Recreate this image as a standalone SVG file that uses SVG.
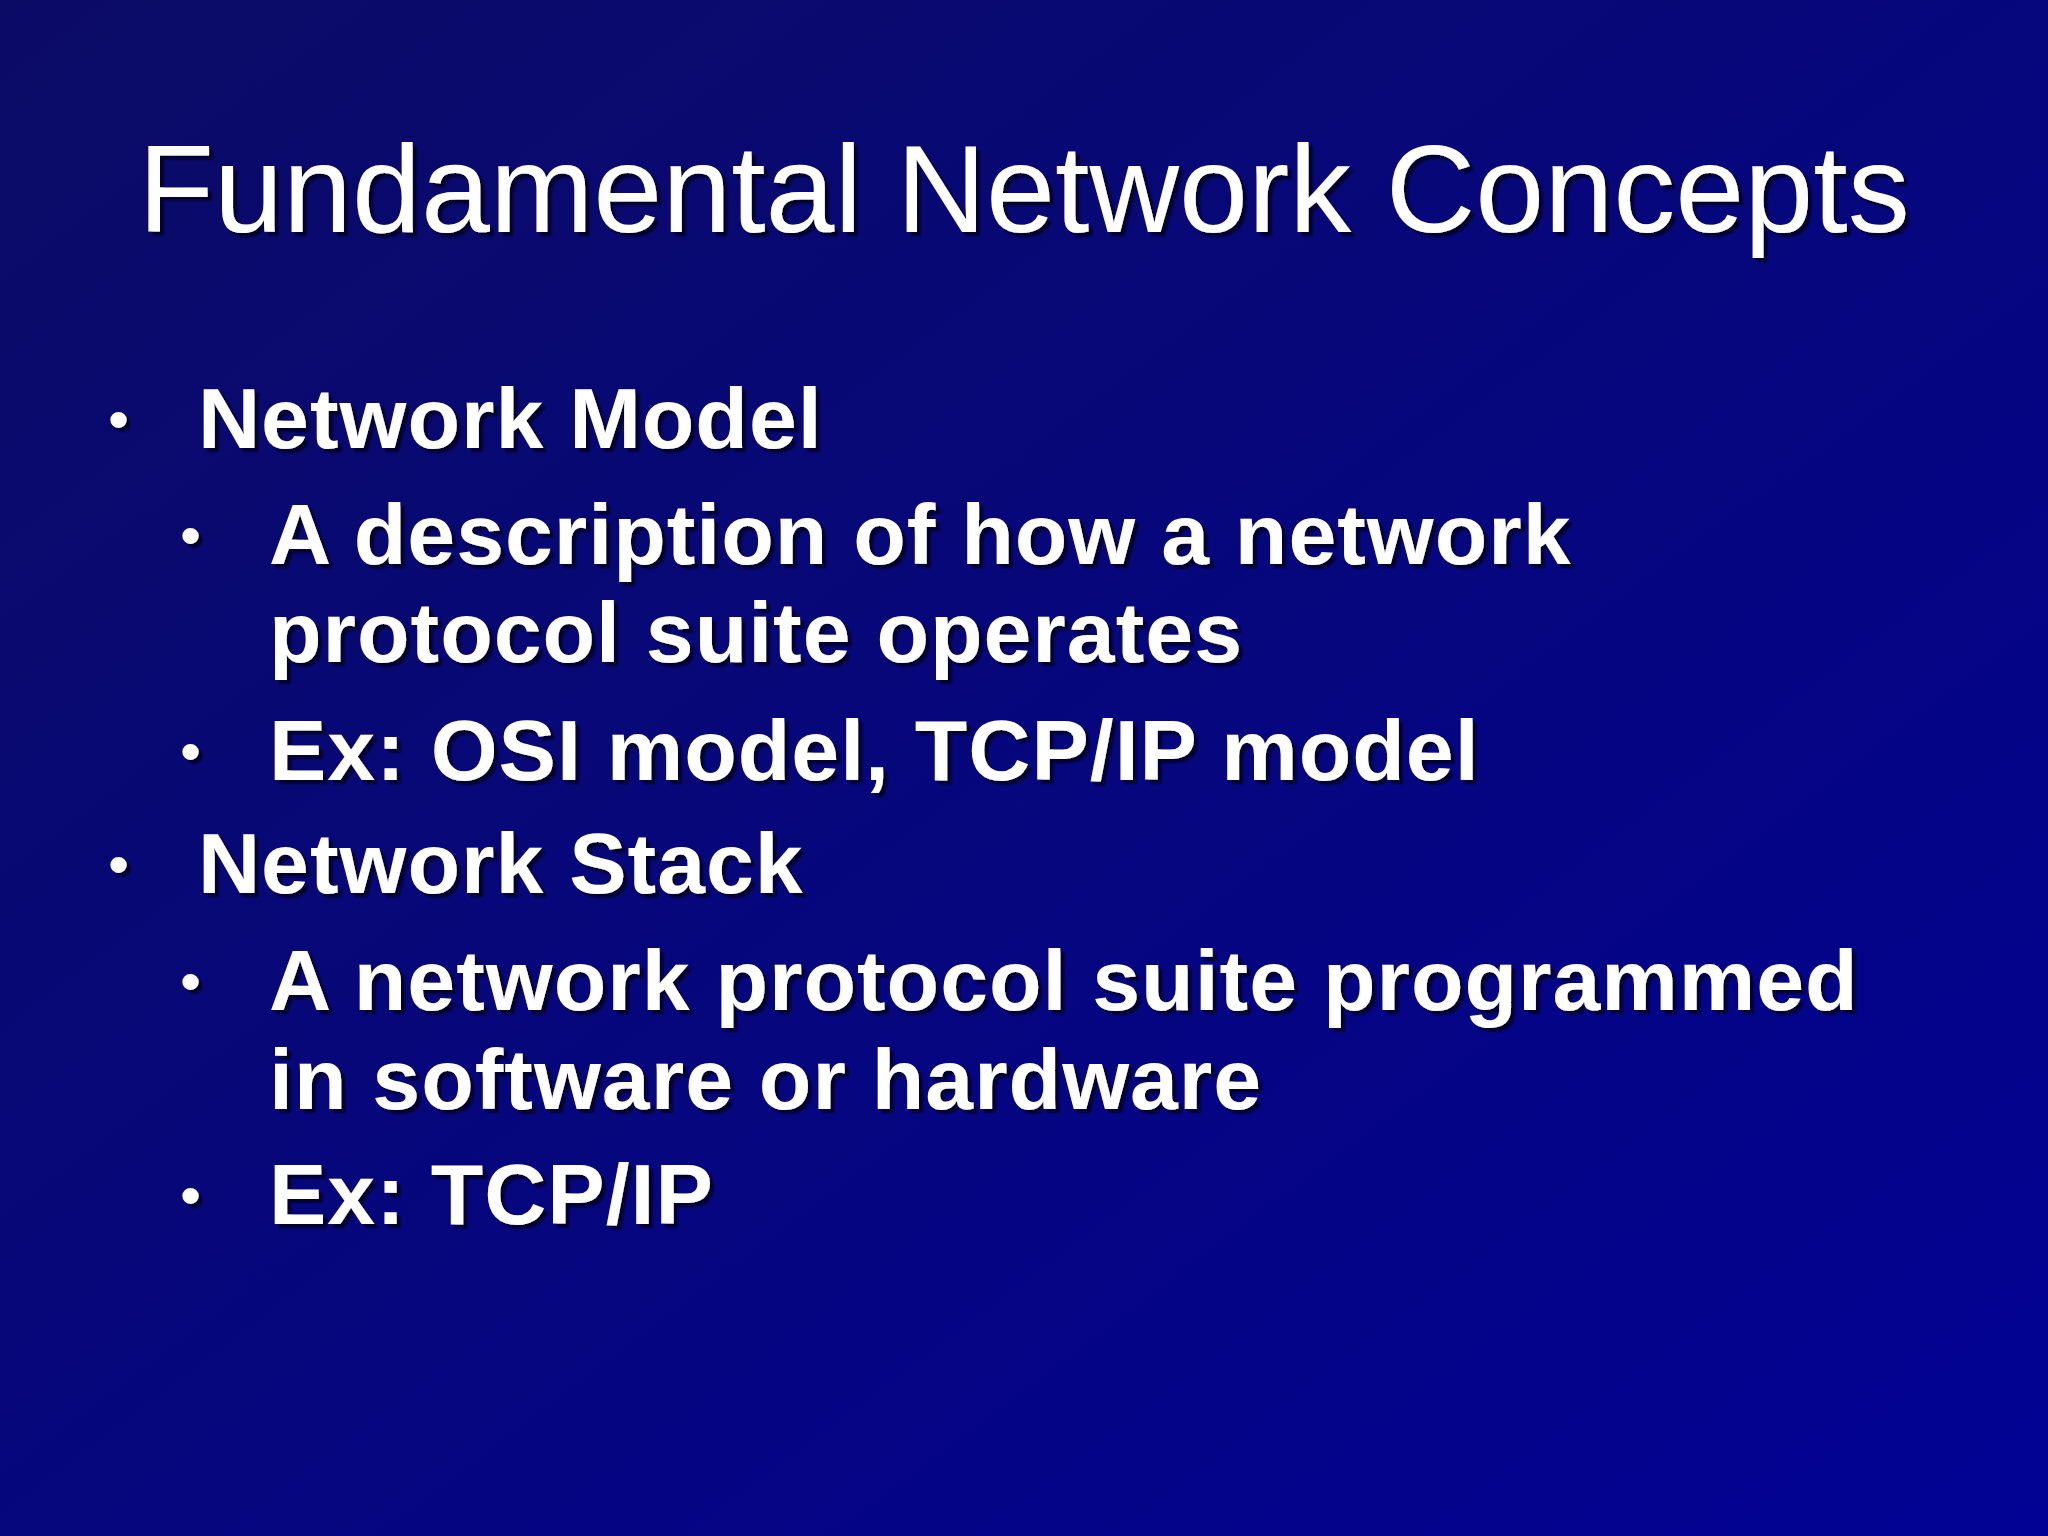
<svg xmlns="http://www.w3.org/2000/svg" width="2048" height="1536" viewBox="0 0 2048 1536">
<defs>
<linearGradient id="bg" x1="0" y1="0" x2="1" y2="1">
<stop offset="0" stop-color="#0b0b66"/>
<stop offset="1" stop-color="#020294"/>
</linearGradient>
<filter id="sh" x="-5%" y="-20%" width="110%" height="140%">
<feDropShadow dx="4" dy="4" stdDeviation="1" flood-color="#000022" flood-opacity="0.8"/>
</filter>
</defs>
<style>
text{fill:#ffffff;font-family:"Liberation Sans",Arial,sans-serif;filter:url(#sh)}
.t{font-size:124px;text-anchor:middle}
.b{font-size:86px;font-weight:bold;letter-spacing:1px}
.d{font-size:60px}
</style>
<rect width="2048" height="1536" fill="url(#bg)"/>
<g id="title"><text class="t" x="1024" y="232">Fundamental Network Concepts</text></g>
<g id="body">
<text class="d" x="108" y="440">•</text>
<text class="b" x="198" y="448">Network Model</text>
<text class="d" x="180" y="556">•</text>
<text class="b" x="269" y="564">A description of how a network</text>
<text class="b" x="269" y="662">protocol suite operates</text>
<text class="d" x="180" y="772">•</text>
<text class="b" x="269" y="780">Ex: OSI model, TCP/IP model</text>
<text class="d" x="108" y="885">•</text>
<text class="b" x="198" y="893">Network Stack</text>
<text class="d" x="180" y="1002">•</text>
<text class="b" x="269" y="1010">A network protocol suite programmed</text>
<text class="b" x="269" y="1109">in software or hardware</text>
<text class="d" x="180" y="1216">•</text>
<text class="b" x="269" y="1224">Ex: TCP/IP</text>
</g>
</svg>
